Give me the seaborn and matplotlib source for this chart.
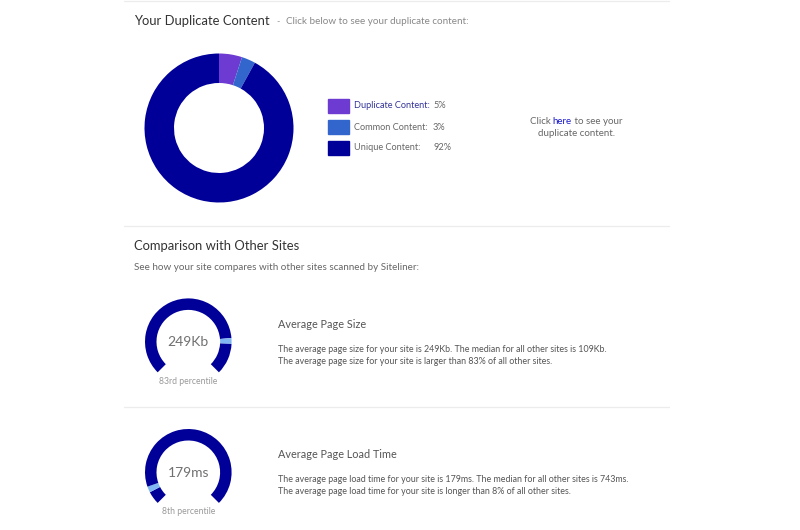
import matplotlib
matplotlib.use("Agg")
import matplotlib.pyplot as plt
from matplotlib.patches import Rectangle
from matplotlib.lines import Line2D
import seaborn as sns

# ---- data ----
categories = ["Duplicate Content", "Common Content", "Unique Content"]
shares = [5, 3, 92]
gauge_titles = ["Average Page Size", "Average Page Load Time"]
gauge_values = ["249Kb", "179ms"]
gauge_percentiles = [83, 8]
gauge_pct_labels = ["83rd percentile", "8th percentile"]
gauge_lines1 = [
    "The average page size for your site is 249Kb. The median for all other sites is 109Kb.",
    "The average page load time for your site is 179ms. The median for all other sites is 743ms.",
]
gauge_lines2 = [
    "The average page size for your site is larger than 83% of all other sites.",
    "The average page load time for your site is longer than 8% of all other sites.",
]

sns.set_theme(style="white")
plt.rcParams["font.family"] = ["Lato", "DejaVu Sans"]

W, H = 800, 530
fig = plt.figure(figsize=(8, 5.3), dpi=100)
fig.patch.set_facecolor("white")

colors = ["#6d3bd1", "#3366cc", "#000099"]
navy = "#000099"
light = "#80b6f2"


def fx(x):
    return x / W


def fy(y):
    return 1 - y / H


def txt(x, y, s, size, color, ha="left", **kw):
    return fig.text(fx(x), fy(y), s, fontsize=size, color=color, ha=ha, va="center", **kw)


def hline(y, x0=124, x1=669):
    fig.add_artist(Line2D([fx(x0), fx(x1)], [fy(y), fy(y)], color="#ececec", lw=0.9,
                          transform=fig.transFigure))


# separators
hline(1)
hline(225.5)
hline(407)

# ---- header ----
txt(134, 21, "Your Duplicate Content", 9.4, "#333333")
txt(276, 21.5, "-", 6.5, "#999999")
txt(286, 21.5, "Click below to see your duplicate content:", 7.1, "#888888")

# ---- donut ----
cx, cy, R = 219, 128, 74.5
half = 80
ax = fig.add_axes([fx(cx - half), fy(cy + half), 2 * half / W, 2 * half / H])
ax.pie(shares, colors=colors, startangle=90, counterclock=False, radius=1,
       wedgeprops=dict(width=(74.5 - 45) / 74.5, linewidth=0))
lim = half / R
ax.set_xlim(-lim, lim)
ax.set_ylim(-lim, lim)
ax.set_aspect("equal")
ax.axis("off")

# legend
for i, (cat, sh, col) in enumerate(zip(categories, shares, colors)):
    yc = 106 + 21 * i
    fig.add_artist(Rectangle((fx(328), fy(yc + 7)), 21 / W, 14 / H, color=col,
                             transform=fig.transFigure))
    tcol = "#333399" if i == 0 else "#666666"
    txt(354, yc, cat + ":", 6.6, tcol)
    txt(433, yc, f"{sh}%", 6.6, "#666666")

# click here text
renderer = fig.canvas.get_renderer()
fs_click = 7.0
parts = [("Click ", "#666666"), ("here", "#1a1ad0"), (" to see your", "#666666")]
tmp = [fig.text(0, 0, p, fontsize=fs_click) for p, _ in parts]
widths = [t.get_window_extent(renderer).width for t in tmp]
for t in tmp:
    t.remove()
x0 = 576 - sum(widths) / 2
for (p, c), w in zip(parts, widths):
    txt(x0, 121, p, fs_click, c)
    x0 += w
txt(576, 134, "duplicate content.", fs_click, "#666666", ha="center")

# ---- comparison ----
txt(134, 246, "Comparison with Other Sites", 9.4, "#333333")
txt(134, 268, "See how your site compares with other sites scanned by Siteliner:", 7.1, "#666666")

gcenters = [(188.3, 341.7), (188.3, 472.3)]
gtitle_y = [324, 455]
gline_y = [(350, 361.5), (480, 492)]
GR = 43.3
for i in range(2):
    gx, gy = gcenters[i]
    h = 52
    gax = fig.add_axes([fx(gx - h), fy(gy + h), 2 * h / W, 2 * h / H])
    p = gauge_percentiles[i] / 100
    m = 8
    vals = [p * 270 - m / 2, m, (1 - p) * 270 - m / 2, 90]
    wedges, _ = gax.pie(vals, colors=[navy, light, navy, "white"], startangle=225,
                        counterclock=False, radius=1,
                        wedgeprops=dict(width=11.5 / GR, linewidth=0))
    wedges[3].set_visible(False)
    l = h / GR
    gax.set_xlim(-l, l)
    gax.set_ylim(-l, l)
    gax.set_aspect("equal")
    gax.axis("off")
    txt(gx, gy + 0.5, gauge_values[i], 10, "#707070", ha="center")
    txt(gx, gy + 39.5, gauge_pct_labels[i], 6.2, "#999999", ha="center")
    txt(278, gtitle_y[i], gauge_titles[i], 7.8, "#555555")
    txt(278, gline_y[i][0], gauge_lines1[i], 6.4, "#555555")
    txt(278, gline_y[i][1], gauge_lines2[i], 6.4, "#555555")

fig.savefig("out.png", dpi=100, facecolor="white")
